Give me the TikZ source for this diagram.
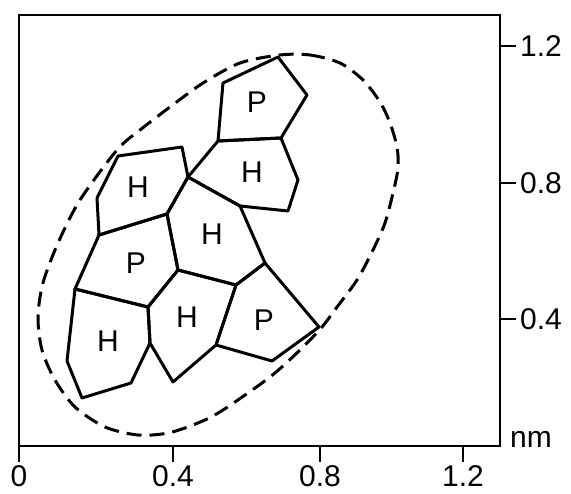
\documentclass[tikz,border=0pt]{standalone}
\usepackage{fontspec}
\setmainfont{Liberation Sans}

\begin{document}
\begin{tikzpicture}[x=1pt, y=-1pt,
  cell/.style={line width=3pt, line join=round},
  frame/.style={line width=2pt},
  rim/.style={line width=3pt, dash pattern=on 15pt off 8pt},
  celltext/.style={font=\fontsize{30}{36}\selectfont, inner sep=0pt},
  axistext/.style={font=\fontsize{30}{36}\selectfont, inner sep=0pt}]
  \useasboundingbox (0,0) rectangle (571,494);

  % axes box and ticks
  \draw[frame] (19,15) rectangle (500,446);
  \foreach \x/\t [count=\i] in {19/0, 173/0.4, 320/0.8, 463/1.2} {
    \draw[frame] (\x,446) -- (\x,462);
    \node[axistext, anchor=base] (xl\i) at (\x,487) {\t};
  }
  \foreach \y/\t [count=\i] in {46/1.2, 183/0.8, 319/0.4} {
    \draw[frame] (500,\y) -- (516,\y);
    \node[axistext, anchor=west] (yl\i) at (520,\y) {\t};
  }
  \node[axistext, anchor=base west] (unit) at (510,448) {nm};

  % cell corners
  \coordinate (A) at (278,57);
  \coordinate (B) at (307,95);
  \coordinate (C) at (281,138);
  \coordinate (D) at (218,141);
  \coordinate (E) at (223,83);
  \coordinate (F) at (298,180);
  \coordinate (G) at (288,211);
  \coordinate (H) at (240,206);
  \coordinate (J) at (188,177);
  \coordinate (K) at (118,156);
  \coordinate (L) at (182,147);
  \coordinate (M) at (167,214);
  \coordinate (N) at (99,235);
  \coordinate (O) at (97,198);
  \coordinate (P) at (265,263);
  \coordinate (Q) at (236,285);
  \coordinate (R) at (178,270);
  \coordinate (S) at (148,307);
  \coordinate (T) at (75,289);
  \coordinate (U) at (150,343);
  \coordinate (V) at (131,383);
  \coordinate (W) at (82,398);
  \coordinate (X) at (67,361);
  \coordinate (Y) at (216,345);
  \coordinate (Z) at (173,382);
  \coordinate (AA) at (319,327);
  \coordinate (BB) at (272,361);

  \draw[cell] (A) -- (B) -- (C) -- (D) -- (E) -- cycle;
  \draw[cell] (D) -- (C) -- (F) -- (G) -- (H) -- (J) -- cycle;
  \draw[cell] (K) -- (L) -- (J) -- (M) -- (N) -- (O) -- cycle;
  \draw[cell] (J) -- (H) -- (P) -- (Q) -- (R) -- (M) -- cycle;
  \draw[cell] (N) -- (M) -- (R) -- (S) -- (T) -- cycle;
  \draw[cell] (T) -- (S) -- (U) -- (V) -- (W) -- (X) -- cycle;
  \draw[cell] (S) -- (R) -- (Q) -- (Y) -- (Z) -- (U) -- cycle;
  \draw[cell] (Q) -- (P) -- (AA) -- (BB) -- (Y) -- cycle;

  \node[celltext] (p1) at (257,102) {P};
  \node[celltext] (h2) at (252,172) {H};
  \node[celltext] (h1) at (138,187) {H};
  \node[celltext] (h0) at (212,234) {H};
  \node[celltext] (p2) at (136,263) {P};
  \node[celltext] (h3) at (108,341) {H};
  \node[celltext] (h4) at (187,317) {H};
  \node[celltext] (p3) at (264,320) {P};

  % dashed outline
  \draw[rim] plot[smooth cycle, tension=0.5] coordinates {
    (280,55) (310,55) (340,63) (363,80) (380,102) (390,123) (397,147)
    (398,168) (393,193) (385,223) (373,250) (357,280) (337,307) (322,327)
    (300,350) (270,377) (223,410) (198,423) (168,433) (138,435) (105,427)
    (75,407) (55,380) (42,350) (38,317) (43,283) (58,243) (80,200)
    (117,150) (140,130) (170,107) (203,83) (240,63)};
\end{tikzpicture}
\end{document}
